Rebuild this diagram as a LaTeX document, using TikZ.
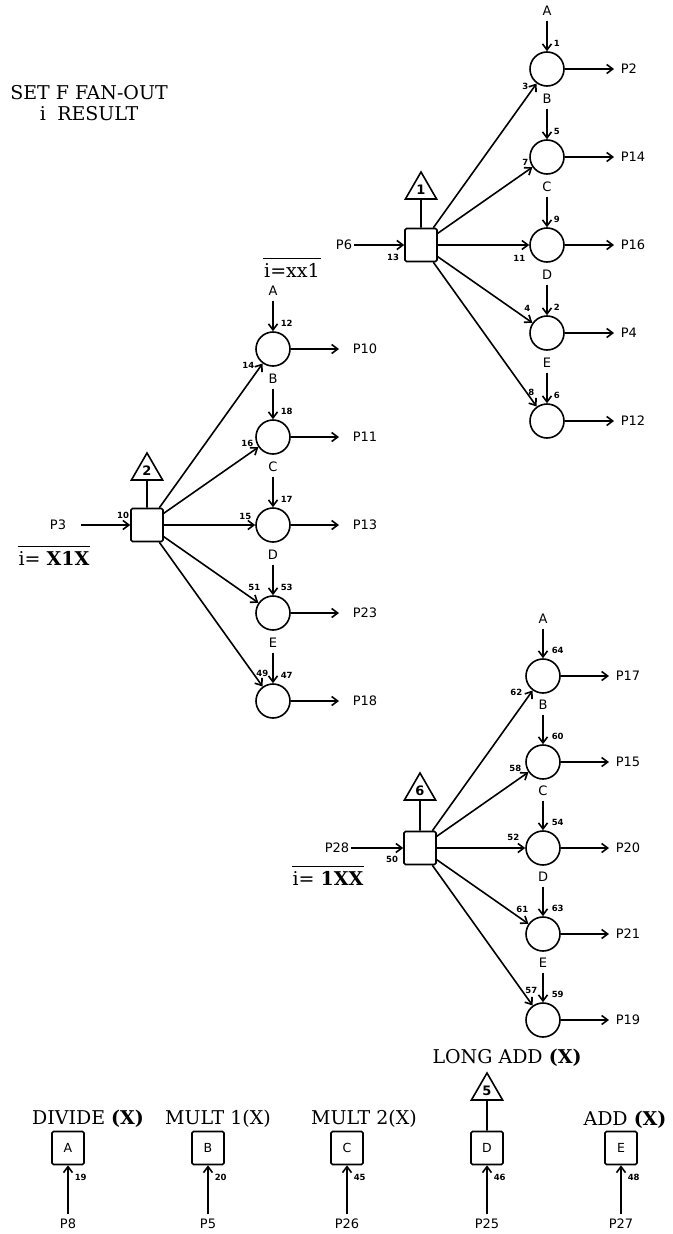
\documentclass[tikz,border=0pt]{standalone}
\usepackage{fontspec}
\usetikzlibrary{calc}
\usetikzlibrary{arrows.meta}
\usetikzlibrary{shapes.geometric}
\newfontfamily\lblfont{DejaVu Sans}
\newfontfamily\capfont{DejaVu Serif}

\begin{document}
\begin{tikzpicture}[
  x=1pt, y=-1pt,
  line width=1.6pt,
  gate/.style={circle, draw, minimum size=34pt, inner sep=0pt},
  fanbox/.style={rectangle, draw, rounded corners=1.5pt, minimum width=32pt,
    minimum height=33pt, inner sep=0pt, font=\lblfont\fontsize{12.5}{13}\selectfont},
  flag/.style={regular polygon, regular polygon sides=3, draw, minimum size=36pt,
    inner sep=0pt, font=\lblfont\fontsize{13}{13}\selectfont\bfseries},
  sig/.style={font=\lblfont\fontsize{13}{13}\selectfont, inner sep=1pt},
  pin/.style={font=\lblfont\fontsize{8.5}{9}\selectfont\bfseries, inner sep=0pt},
  captxt/.style={font=\capfont\fontsize{19}{21}\selectfont, inner sep=0pt},
  bar/.style={line width=1.3pt},
  flow/.style={-{Straight Barb[length=6pt,width=9pt]}}
]
\useasboundingbox (0,0) rectangle (672,1234);

% ====== TITLE ======
\node[captxt, align=center] (title) at (89,103)
    {SET F FAN-OUT\\ i\hspace{0.6em}RESULT};

% ====== FAN-OUT 1 (upper right) ======
\node[fanbox] (box1) at (421,245) {};
\node[flag] (tri1) at (421,190) {1};
\draw (tri1.south) -- (box1.north);
\node[sig] (in1) at (344,245) {P6};
\draw[flow] (in1) -- (box1);
\node[pin] (n13) at (393,257) {13};
\node[captxt] (sel1) at (292,270) {i=xx1};
\draw[bar] ([yshift=4pt]sel1.north west) -- ([yshift=4pt]sel1.north east);
\foreach \row/\ltr/\res/\tp/\sd/\px/\py in {
    1/A/P2/1/3/-18/17, 2/B/P14/5/7/-18/5, 3/C/P16/9/11/-21/13,
    4/D/P4/2/4/-16/-25, 5/E/P12/6/8/-12/-29}{
  \node[gate] (g1\ltr) at (547,{245+(\row-3)*88}) {};
  \node[sig] (l1\ltr) at ($(g1\ltr)+(0,-58)$) {\ltr};
  \draw[flow, shorten <=3pt] (l1\ltr) -- (g1\ltr);
  \draw[flow] (box1) -- (g1\ltr);
  \node[sig, anchor=west] (o1\ltr) at ($(g1\ltr)+(72,0)$) {\res};
  \draw[flow, shorten >=5pt] (g1\ltr) -- (o1\ltr);
  \node[pin, anchor=west] (t1\ltr) at ($(g1\ltr)+(6,-26)$) {\tp};
  \node[pin, anchor=east] (d1\ltr) at ($(g1\ltr)+(\px,\py)$) {\sd};
}

% ====== FAN-OUT 2 (left) ======
\node[fanbox] (box2) at (147,525) {};
\node[flag] (tri2) at (147,471) {2};
\draw (tri2.south) -- (box2.north);
\node[sig] (in2) at (58,525) {P3};
\draw[flow, shorten <=13pt] (in2) -- (box2);
\node[pin] (n10) at (123,515) {10};
\node[captxt] (sel2) at (54,558) {i= \textbf{X1X}};
\draw[bar] ([yshift=4pt]sel2.north west) -- ([yshift=4pt]sel2.north east);
\foreach \row/\ltr/\res/\tp/\sd/\px/\py in {
    1/A/P10/12/14/-18/16, 2/B/P11/18/16/-19/6, 3/C/P13/17/15/-21/-9,
    4/D/P23/53/51/-12/-26, 5/E/P18/47/49/-4/-28}{
  \node[gate] (g2\ltr) at (273,{525+(\row-3)*88}) {};
  \node[sig] (l2\ltr) at ($(g2\ltr)+(0,-58)$) {\ltr};
  \draw[flow, shorten <=3pt] (l2\ltr) -- (g2\ltr);
  \draw[flow] (box2) -- (g2\ltr);
  \node[sig, anchor=west] (o2\ltr) at ($(g2\ltr)+(78,0)$) {\res};
  \draw[flow, shorten >=12pt] (g2\ltr) -- (o2\ltr);
  \node[pin, anchor=west] (t2\ltr) at ($(g2\ltr)+(7,-26)$) {\tp};
  \node[pin, anchor=east] (d2\ltr) at ($(g2\ltr)+(\px,\py)$) {\sd};
}

% ====== FAN-OUT 6 (lower right) ======
\node[fanbox] (box3) at (420,848) {};
\node[flag] (tri3) at (420,791) {6};
\draw (tri3.south) -- (box3.north);
\node[sig] (in3) at (337,848) {P28};
\draw[flow] (in3) -- (box3);
\node[pin] (n50) at (392,859) {50};
\node[captxt] (sel3) at (328,878) {i= \textbf{1XX}};
\draw[bar] ([yshift=4pt]sel3.north west) -- ([yshift=4pt]sel3.north east);
\foreach \row/\ltr/\res/\tp/\sd/\px/\py in {
    1/A/P17/64/62/-20/16, 2/B/P15/60/58/-21/6, 3/C/P20/54/52/-23/-11,
    4/D/P21/63/61/-14/-25, 5/E/P19/59/57/-5/-30}{
  \node[gate] (g3\ltr) at (543,{848+(\row-3)*86}) {};
  \node[sig] (l3\ltr) at ($(g3\ltr)+(0,-57)$) {\ltr};
  \draw[flow, shorten <=3pt] (l3\ltr) -- (g3\ltr);
  \draw[flow] (box3) -- (g3\ltr);
  \node[sig, anchor=west] (o3\ltr) at ($(g3\ltr)+(71,0)$) {\res};
  \draw[flow, shorten >=5pt] (g3\ltr) -- (o3\ltr);
  \node[pin, anchor=west] (t3\ltr) at ($(g3\ltr)+(8,-26)$) {\tp};
  \node[pin, anchor=east] (d3\ltr) at ($(g3\ltr)+(\px,\py)$) {\sd};
}

% ====== UNITS ======
\foreach \ltr/\x/\pnum/\src in {A/68/19/P8, B/208/20/P5, C/347/45/P26,
    D/487/46/P25, E/621/48/P27}{
  \node[fanbox] (u\ltr) at (\x,1148) {\ltr};
  \node[sig] (s\ltr) at (\x,1224) {\src};
  \draw[flow, shorten <=3pt] (s\ltr) -- (u\ltr);
  \node[pin, anchor=west] (q\ltr) at ($(u\ltr.south)+(6,12)$) {\pnum};
}
\node[captxt] (capA) at (88,1119) {DIVIDE \textbf{(X)}};
\node[captxt] (capB) at (218,1119) {MULT 1(X)};
\node[captxt] (capC) at (364,1119) {MULT 2(X)};
\node[captxt] (capE) at (625,1120) {ADD \textbf{(X)}};
\node[flag] (tri5) at (487,1091) {5};
\draw (tri5.south) -- (uD.north);
\node[captxt] (capD) at (507,1058) {LONG ADD \textbf{(X)}};

\end{tikzpicture}
\end{document}
